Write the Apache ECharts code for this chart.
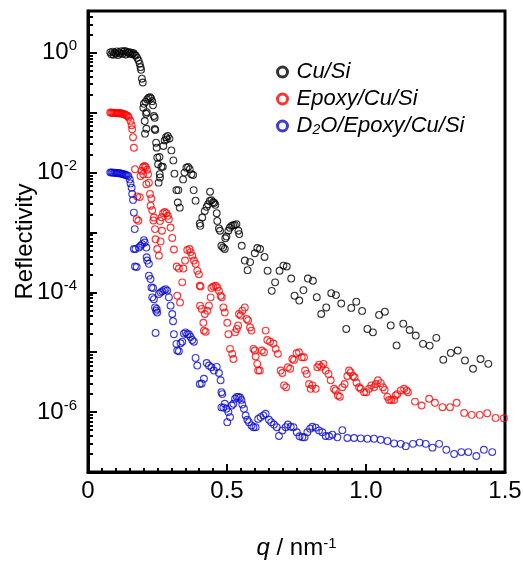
<!DOCTYPE html>
<html>
<head>
<meta charset="utf-8">
<script src="https://cdn.jsdelivr.net/npm/echarts@6/dist/echarts.min.js"></script>
<style>
html,body{margin:0;padding:0;background:#fff;}
#chart{width:523px;height:562px;}
</style>
</head>
<body>
<div id="chart"></div>
<script>
// ---- data: [q (nm^-1), reflectivity] ----
var seriesNames = ['Cu/Si', 'Epoxy/Cu/Si', 'D2O/Epoxy/Cu/Si'];

var cuSi = [
[0.080,1.02],[0.084,0.95],[0.088,1.05],[0.092,0.93],[0.096,1.01],[0.100,0.97],[0.104,1.06],[0.108,0.92],
[0.112,1.03],[0.116,0.98],[0.120,1.07],[0.124,0.96],[0.128,1.04],[0.132,1.08],[0.136,0.94],[0.140,1.05],
[0.144,1.00],[0.148,1.03],[0.152,0.96],[0.156,1.01],[0.160,0.95],[0.164,0.99],[0.168,0.93],[0.172,0.90],
[0.177,0.825],[0.182,0.745],[0.186,0.655],[0.189,0.577],[0.191,0.52],[0.194,0.37],[0.197,0.32],
[0.199,0.121],[0.201,0.141],[0.207,0.152],[0.213,0.167],[0.218,0.178],[0.223,0.182],[0.227,0.174],[0.231,0.156],
[0.234,0.133],[0.211,0.102],[0.209,0.096],[0.237,0.088],[0.240,0.0825],[0.204,0.0726],[0.210,0.054],[0.205,0.0447],
[0.240,0.0535],[0.242,0.0515],
[0.245,0.0316],[0.247,0.0261],[0.249,0.0178],[0.257,0.0182],[0.252,0.0138],[0.264,0.0125],[0.269,0.0125],
[0.258,0.0094],[0.259,0.0083],[0.254,0.0068],
[0.271,0.0278],[0.276,0.0345],[0.281,0.039],[0.287,0.0408],[0.293,0.037],[0.283,0.0359],[0.300,0.0235],[0.307,0.016],
[0.311,0.0096],[0.318,0.0051],[0.325,0.0051],[0.323,0.00316],[0.330,0.0026],
[0.342,0.0077],[0.347,0.0100],[0.354,0.0121],[0.360,0.0124],[0.366,0.0114],[0.372,0.0094],[0.378,0.0091],
[0.380,0.0051],[0.387,0.0034],
[0.404,0.00129],[0.402,0.00141],[0.411,0.00178],[0.420,0.00229],[0.427,0.00268],[0.432,0.00297],[0.438,0.00337],
[0.444,0.00345],[0.450,0.0032],[0.454,0.0031],[0.458,0.0029],[0.439,0.0048],[0.463,0.0021],[0.465,0.00156],
[0.471,0.00117],[0.475,0.00107],[0.480,0.0006],[0.486,0.00056],[0.492,0.00053],[0.494,0.0008],[0.498,0.00086],
[0.505,0.00107],[0.510,0.0012],[0.516,0.00129],[0.522,0.00132],[0.528,0.00134],[0.534,0.00138],[0.541,0.00107],
[0.544,0.00094],[0.553,0.0006],
[0.564,3.4e-4],[0.574,2.35e-4],[0.583,3.2e-4],[0.600,4.5e-4],[0.609,5.5e-4],[0.619,5.3e-4],[0.635,3.9e-4],
[0.646,2.3e-4],[0.661,1.06e-4],[0.673,1.47e-4],[0.689,2.3e-4],[0.703,2.8e-4],[0.715,2.7e-4],[0.731,1.7e-4],
[0.743,8.8e-5],[0.760,7.3e-5],[0.775,1.09e-4],[0.791,1.7e-4],[0.809,1.56e-4],[0.823,8.3e-5],[0.839,4.35e-5],
[0.857,5.6e-5],[0.875,9.7e-5],[0.892,9.0e-5],[0.911,6.5e-5],[0.929,2.45e-5],[0.947,5.5e-5],[0.965,7.0e-5],
[0.986,4.9e-5],[1.005,2.45e-5],[1.025,2.15e-5],[1.047,4.2e-5],[1.068,4.75e-5],[1.089,2.8e-5],[1.110,1.3e-5],
[1.134,3.0e-5],[1.157,2.35e-5],[1.179,1.9e-5],[1.205,1.38e-5],[1.229,1.29e-5],[1.253,1.74e-5],[1.278,7.5e-6],
[1.305,9.75e-6],[1.330,1.07e-5],[1.356,7.3e-6],[1.385,5.3e-6],[1.412,7.7e-6],[1.440,6.4e-6]
];

var epoxyCuSi = [
[0.080,0.101],[0.084,0.100],[0.088,0.100],[0.092,0.099],[0.096,0.100],[0.100,0.099],[0.104,0.098],[0.108,0.099],
[0.112,0.098],[0.116,0.097],[0.120,0.098],[0.124,0.096],[0.128,0.095],[0.132,0.094],[0.136,0.092],[0.140,0.090],
[0.144,0.087],
[0.147,0.083],[0.153,0.073],[0.157,0.062],[0.159,0.053],[0.162,0.039],[0.165,0.026],[0.169,0.0114],
[0.177,0.0040],[0.186,0.0039],
[0.189,0.0088],[0.193,0.0107],[0.198,0.0124],[0.203,0.0129],[0.207,0.0124],[0.212,0.0112],[0.199,0.0094],
[0.216,0.0094],[0.219,0.0068],[0.210,0.0064],[0.223,0.0044],[0.228,0.0037],[0.225,0.0028],[0.231,0.00235],
[0.175,0.00167],[0.181,0.00157],[0.237,0.00178],[0.235,0.00159],[0.241,0.00114],[0.243,7.7e-4],[0.249,5.3e-4],
[0.255,4.1e-4],[0.261,7.1e-4],[0.266,0.00107],
[0.259,0.00156],[0.265,0.0018],[0.270,0.0021],[0.276,0.0022],[0.282,0.0021],[0.287,0.0019],[0.291,0.00167],
[0.297,0.00121],[0.303,8.1e-4],[0.309,5.2e-4],[0.319,2.7e-4],[0.327,2.5e-4],[0.321,8.8e-5],[0.331,6.8e-5],
[0.339,1.47e-4],[0.343,2.5e-4],[0.349,3.4e-4],[0.357,5.1e-4],[0.365,5.3e-4],[0.369,4.7e-4],[0.375,4.1e-4],
[0.381,3.4e-4],[0.387,3.0e-4],[0.393,2.3e-4],[0.399,2.0e-4],[0.402,1.29e-4],[0.405,1.25e-4],[0.403,6.0e-5],
[0.409,5.3e-5],[0.417,2.3e-5],[0.423,2.2e-5],[0.415,3.1e-5],[0.420,4.35e-5],[0.429,4.95e-5],[0.435,6.0e-5],
[0.441,8.25e-5],[0.444,1.18e-4],[0.451,1.25e-4],[0.459,1.29e-4],[0.465,1.21e-4],[0.471,1.06e-4],[0.477,8.8e-5],
[0.481,8.3e-5],[0.487,5.6e-5],[0.492,4.6e-5],[0.501,3.1e-5],[0.505,2.0e-5],[0.511,1.14e-5],[0.519,9.4e-6],
[0.523,7.7e-6],[0.529,2.15e-5],[0.535,2.45e-5],[0.540,2.8e-5],[0.543,4.35e-5],[0.549,4.1e-5],[0.555,4.95e-5],
[0.564,5.6e-5],[0.571,3.6e-5],[0.576,3.4e-5],[0.583,2.6e-5],[0.588,2.3e-5],[0.595,1.14e-5],[0.600,1.07e-5],
[0.603,8.5e-6],[0.609,6.4e-6],[0.612,4.95e-6],[0.618,4.95e-6],[0.625,1.07e-5],[0.633,1.0e-5],[0.639,2.3e-5],
[0.645,1.6e-5],[0.655,1.5e-5],[0.667,1.4e-5],[0.675,1.14e-5],[0.683,9.4e-6],[0.693,4.95e-6],[0.699,4.5e-6],
[0.705,2.8e-6],[0.713,2.6e-6],[0.719,5.6e-6],[0.727,5.3e-6],[0.735,7.7e-6],[0.741,7.45e-6],[0.750,9.6e-6],
[0.759,1.0e-5],[0.769,8.25e-6],[0.777,8.25e-6],[0.781,4.95e-6],[0.787,4.35e-6],[0.795,2.95e-6],[0.801,2.45e-6],
[0.807,2.8e-6],[0.819,2.45e-6],[0.825,5.6e-6],[0.831,6.2e-6],[0.839,5.7e-6],[0.847,6.4e-6],[0.855,4.95e-6],
[0.865,4.35e-6],[0.873,3.4e-6],[0.885,2.45e-6],[0.891,2.3e-6],[0.899,1.9e-6],[0.906,1.8e-6],[0.915,2.6e-6],
[0.923,2.95e-6],[0.933,4.0e-6],[0.939,4.95e-6],[0.945,4.6e-6],[0.953,4.0e-6],[0.959,3.8e-6],[0.966,3.1e-6],
[0.975,2.6e-6],[0.981,2.45e-6],[0.993,2.15e-6],[1.001,2.15e-6],[1.011,2.45e-6],[1.019,2.8e-6],[1.029,2.6e-6],
[1.035,2.95e-6],[1.043,3.4e-6],[1.053,3.05e-6],[1.061,2.6e-6],[1.067,2.35e-6],[1.077,1.8e-6],[1.083,1.6e-6],
[1.091,1.6e-6],[1.101,1.6e-6],[1.107,1.9e-6],[1.113,2.0e-6],[1.125,2.3e-6],[1.137,2.45e-6],[1.146,2.3e-6],
[1.151,2.15e-6],[1.176,1.5e-6],[1.200,1.29e-6],[1.227,1.67e-6],[1.248,1.43e-6],[1.275,1.21e-6],[1.302,1.21e-6],
[1.326,1.43e-6],[1.353,9.7e-7],[1.380,9.0e-7],[1.409,9.0e-7],[1.436,9.6e-7],[1.466,8.0e-7],[1.496,7.9e-7]
];

var d2oEpoxyCuSi = [
[0.080,0.0101],[0.084,0.0100],[0.088,0.0101],[0.092,0.0099],[0.096,0.0100],[0.100,0.0099],[0.104,0.0098],
[0.108,0.0099],[0.112,0.0097],[0.116,0.0098],[0.120,0.0096],[0.124,0.0095],[0.128,0.0094],[0.132,0.0093],
[0.136,0.0091],[0.140,0.0090],
[0.145,0.0088],[0.150,0.0077],[0.153,0.0066],[0.157,0.0056],[0.159,0.0044],[0.162,0.0035],[0.165,0.00215],
[0.168,0.00114],
[0.169,2.7e-4],[0.175,2.65e-4],[0.165,5.3e-4],[0.171,5.3e-4],
[0.183,5.6e-4],[0.189,6.0e-4],[0.195,6.4e-4],[0.201,7.45e-4],[0.204,6.8e-4],[0.210,5.6e-4],[0.213,3.4e-4],
[0.219,3.0e-4],[0.211,3.85e-4],[0.219,1.9e-4],[0.225,1.67e-4],[0.228,1.21e-4],[0.234,1.18e-4],[0.231,8.25e-5],
[0.237,7.7e-5],[0.241,5.6e-5],[0.245,4.95e-5],[0.249,4.6e-5],[0.247,5.3e-5],
[0.255,9.4e-5],[0.261,1.0e-4],[0.267,1.04e-4],[0.273,1.09e-4],[0.279,1.13e-4],[0.285,1.07e-4],[0.291,8.25e-5],
[0.297,6.0e-5],[0.303,4.35e-5],[0.306,3.3e-5],[0.243,2.1e-5],
[0.309,2.0e-5],[0.318,1.38e-5],[0.321,1.07e-5],[0.327,1.04e-5],[0.333,1.41e-5],[0.339,1.5e-5],[0.345,2.05e-5],
[0.351,2.15e-5],[0.357,2.0e-5],[0.363,2.0e-5],[0.369,1.8e-5],[0.375,1.6e-5],[0.381,1.5e-5],[0.387,8.05e-6],
[0.393,6.0e-6],[0.402,2.95e-6],[0.409,3.0e-6],[0.417,3.6e-6],[0.427,6.6e-6],[0.435,6.0e-6],[0.444,5.6e-6],
[0.453,4.95e-6],[0.463,5.7e-6],[0.471,4.5e-6],[0.477,3.4e-6],[0.480,2.15e-6],[0.483,2.0e-6],[0.480,1.2e-6],
[0.487,1.2e-6],[0.492,1.38e-6],[0.498,1.14e-6],[0.501,6.8e-7],[0.505,1.0e-6],[0.511,8.25e-7],[0.517,1.29e-6],
[0.523,1.38e-6],[0.529,1.67e-6],[0.535,1.8e-6],[0.541,1.8e-6],[0.547,1.75e-6],[0.552,1.6e-6],[0.555,1.34e-6],
[0.561,1.14e-6],[0.567,8.8e-7],[0.573,7.45e-7],[0.579,6.8e-7],[0.588,6.0e-7],[0.595,5.6e-7],[0.603,5.6e-7],
[0.612,7.7e-7],[0.621,8.25e-7],[0.631,8.8e-7],[0.639,9.4e-7],[0.651,7.45e-7],[0.659,6.8e-7],[0.669,6.2e-7],
[0.679,5.6e-7],[0.687,4.0e-7],[0.699,4.95e-7],[0.711,5.6e-7],[0.719,6.2e-7],[0.729,5.7e-7],[0.739,5.6e-7],
[0.751,4.6e-7],[0.761,3.95e-7],[0.771,3.8e-7],[0.779,3.8e-7],[0.789,4.6e-7],[0.799,5.3e-7],[0.807,5.7e-7],
[0.819,5.5e-7],[0.831,4.95e-7],[0.843,4.6e-7],[0.855,4.0e-7],[0.867,3.95e-7],[0.879,4.2e-7],[0.897,3.8e-7],
[0.915,5.0e-7],[0.933,3.7e-7],[0.957,3.7e-7],[0.981,3.65e-7],[1.005,3.6e-7],[1.029,3.6e-7],[1.053,3.45e-7],
[1.077,3.3e-7],[1.101,3.0e-7],[1.125,2.95e-7],[1.143,2.7e-7],[1.169,2.95e-7],[1.193,3.1e-7],[1.215,2.95e-7],
[1.239,2.55e-7],[1.263,2.95e-7],[1.289,2.35e-7],[1.317,2.0e-7],[1.343,2.15e-7],[1.368,2.15e-7],[1.397,1.85e-7],
[1.424,2.35e-7],[1.454,2.15e-7]
];

var seriesColors = ['#000000', '#ff0000', '#0a0ad2'];

// axis ticks / labels
var yLabelValues = [1e-6, 1e-4, 1e-2, 1];
var yDecadeTicks = [1e-7, 1e-6, 1e-5, 1e-4, 1e-3, 1e-2, 1e-1, 1];
var yMinorTicks = (function () {
  var out = [];
  for (var e = -7; e <= 0; e++) {
    for (var m = 2; m <= 9; m++) {
      var v = m * Math.pow(10, e);
      if (v < 5) out.push(v);
    }
  }
  return out;
})();
var xMin = 0, xMax = 1.5, xInterval = 0.5;
var yMin = 1e-7, yMax = 5;

var font = 'Liberation Sans, Arial, Helvetica, sans-serif';

var chart = echarts.init(document.getElementById('chart'), null, {renderer: 'canvas'});

function mkSeries(name, data, color) {
  return {
    name: name,
    type: 'scatter',
    data: data,
    symbol: 'circle',
    symbolSize: 6.8,
    itemStyle: {color: 'rgba(0,0,0,0)', borderColor: color, borderWidth: 1.1},
    emphasis: {disabled: true},
    silent: true,
    z: 3
  };
}

var option = {
  animation: false,
  backgroundColor: '#fff',
  grid: {left: 88, right: 18, top: 11, bottom: 90, containLabel: false, outerBoundsMode: 'none',
         show: true, borderColor: '#000', borderWidth: 3, backgroundColor: 'rgba(0,0,0,0)'},
  legend: {
    orient: 'vertical',
    left: 271,
    top: 56,
    itemWidth: 10,
    itemHeight: 10,
    itemGap: 5,
    icon: 'circle',
    itemStyle: {borderWidth: 3},
    data: seriesNames,
    formatter: function (name) {
      if (name.indexOf('D2O') === 0) return '{i|D}{sub|2}{i|O/Epoxy/Cu/Si}';
      return '{i|' + name + '}';
    },
    textStyle: {
      padding: [0, 0, 0, 4],
      rich: {
        i: {fontSize: 22, fontStyle: 'italic', fontFamily: font, color: '#000', lineHeight: 22},
        sub: {fontSize: 14, fontStyle: 'italic', fontFamily: font, color: '#000', lineHeight: 12, verticalAlign: 'bottom'}
      }
    }
  },
  xAxis: {
    type: 'value',
    min: xMin, max: xMax, interval: xInterval,
    axisLine: {show: true, onZero: false, lineStyle: {color: '#000', width: 3}},
    axisTick: {show: true, inside: true, length: 8, lineStyle: {color: '#000', width: 2}},
    minorTick: {show: true, splitNumber: 10, length: 4, lineStyle: {color: '#000', width: 2}},
    splitLine: {show: false},
    axisLabel: {
      margin: 7, color: '#000', fontSize: 24, fontFamily: font,
      formatter: function (v) { return v === 0 ? '0' : v.toFixed(1); }
    },
    name: '{i|q}{n| / nm}{s|-1}',
    nameLocation: 'middle',
    nameGap: 64,
    nameTextStyle: {
      rich: {
        i: {fontSize: 24, fontStyle: 'italic', fontFamily: font, color: '#000', lineHeight: 24},
        n: {fontSize: 24, fontFamily: font, color: '#000', lineHeight: 24},
        s: {fontSize: 15, fontFamily: font, color: '#000', lineHeight: 12, verticalAlign: 'top'}
      }
    }
  },
  yAxis: [{
    type: 'log', logBase: 10, min: yMin, max: yMax, position: 'left',
    axisLine: {show: true, onZero: false, lineStyle: {color: '#000', width: 3}},
    axisTick: {show: true, inside: true, length: 9, lineStyle: {color: '#000', width: 2}, customValues: yDecadeTicks},
    splitLine: {show: false},
    axisLabel: {
      customValues: yLabelValues,
      margin: 11,
      formatter: function (v) {
        var e = Math.round(Math.log10(v));
        return '{b|10}{s|' + e + '}';
      },
      rich: {
        b: {fontSize: 24, fontFamily: font, color: '#000', lineHeight: 28},
        s: {fontSize: 15, fontFamily: font, color: '#000', lineHeight: 14, verticalAlign: 'top'}
      }
    },
    name: 'Reflectivity',
    nameLocation: 'middle',
    nameGap: 51,
    nameMoveOverlap: false,
    nameTextStyle: {fontSize: 24, fontFamily: font, color: '#000'}
  }, {
    type: 'log', logBase: 10, min: yMin, max: yMax, position: 'left',
    axisLine: {show: false},
    axisTick: {show: true, inside: true, length: 5, lineStyle: {color: '#000', width: 2}, customValues: yMinorTicks},
    axisLabel: {show: false},
    splitLine: {show: false}
  }],
  series: [
    mkSeries(seriesNames[0], cuSi, seriesColors[0]),
    mkSeries(seriesNames[1], epoxyCuSi, seriesColors[1]),
    mkSeries(seriesNames[2], d2oEpoxyCuSi, seriesColors[2])
  ]
};
chart.setOption(option);
</script>
</body>
</html>
